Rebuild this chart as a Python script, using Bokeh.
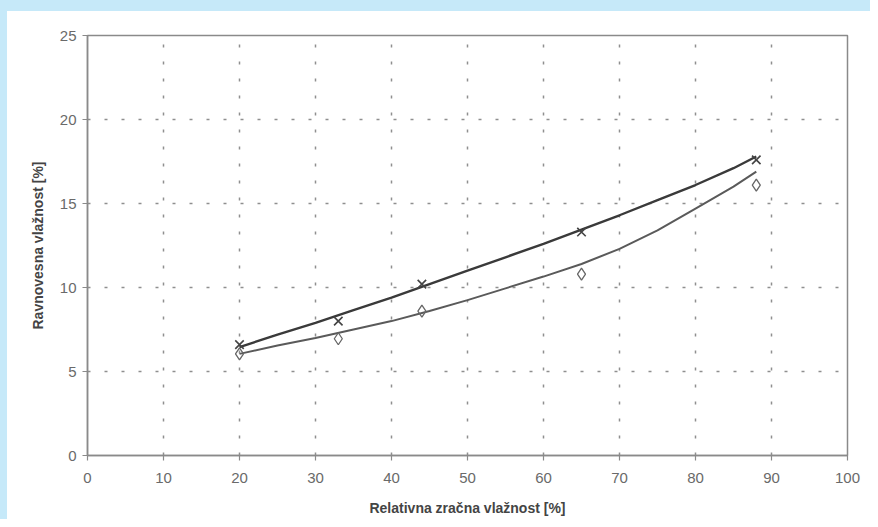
from bokeh.plotting import figure
from bokeh.embed import file_html
from bokeh.resources import INLINE
from bokeh.models import Range1d, FixedTicker

# Measured points
rh_points = [20, 33, 44, 65, 88]
moisture_x = [6.6, 8.0, 10.2, 13.3, 17.6]        # crosses
moisture_d = [6.05, 6.95, 8.6, 10.8, 16.1]        # diamonds

# Trend curves
curve_x = [20, 25, 30, 35, 40, 45, 50, 55, 60, 65, 70, 75, 80, 85, 88]
curve_upper = [6.45, 7.2, 7.9, 8.65, 9.4, 10.2, 11.0, 11.8, 12.6, 13.45, 14.3, 15.2, 16.1, 17.1, 17.8]
curve_lower = [6.05, 6.55, 7.0, 7.5, 8.0, 8.6, 9.25, 9.95, 10.65, 11.4, 12.3, 13.4, 14.7, 16.0, 16.9]

x_ticks = [0, 10, 20, 30, 40, 50, 60, 70, 80, 90, 100]
y_ticks = [0, 5, 10, 15, 20, 25]

FONT = "Liberation Sans"

p = figure(width=870, height=519, output_backend="svg", toolbar_location=None,
           x_range=Range1d(0, 100), y_range=Range1d(0, 25),
           frame_width=760, frame_height=420,
           min_border_left=87, min_border_top=35, min_border_right=23, min_border_bottom=64)

p.background_fill_color = "white"
p.border_fill_color = "white"
p.border_fill_alpha = 0.0
# blue scan border along the top and left edges
p.styles = {"background-color": "white",
            "box-shadow": "inset 7px 11px 0 0 #c6e9f9"}
p.outline_line_color = "#8a8a8a"
p.outline_line_width = 1.5

for ax in (p.xaxis[0], p.yaxis[0]):
    ax.axis_line_color = "#8a8a8a"
    ax.axis_line_width = 1.5
    ax.major_tick_line_color = "#8a8a8a"
    ax.major_tick_line_width = 1.2
    ax.major_tick_out = 5
    ax.major_tick_in = 0
    ax.minor_tick_line_color = None
    ax.major_label_text_font = FONT
    ax.major_label_text_font_size = "15px"
    ax.major_label_text_color = "#6a6a6a"
    ax.axis_label_text_font = FONT
    ax.axis_label_text_font_size = "14px"
    ax.axis_label_text_font_style = "bold"
    ax.axis_label_text_color = "#444444"

p.xaxis.ticker = FixedTicker(ticks=x_ticks)
p.yaxis.ticker = FixedTicker(ticks=y_ticks)
p.xaxis.major_label_standoff = 12
p.yaxis.major_label_standoff = 6
p.xaxis.axis_label = "Relativna zračna vlažnost [%]"
p.yaxis.axis_label = "Ravnovesna vlažnost [%]"
p.xaxis.axis_label_standoff = 14
p.yaxis.axis_label_standoff = 11

p.xgrid.ticker = FixedTicker(ticks=x_ticks[1:-1])
p.ygrid.ticker = FixedTicker(ticks=y_ticks[1:-1])
for g in (p.xgrid[0], p.ygrid[0]):
    g.grid_line_color = "#8f8f8f"
    g.grid_line_dash = "3 14"
    g.grid_line_width = 1.5

p.line(curve_x, curve_upper, line_color="#3a3a3a", line_width=2.4)
p.line(curve_x, curve_lower, line_color="#5a5a5a", line_width=2.0)

p.scatter(rh_points, moisture_x, marker="x", size=12, line_color="#444444", line_width=1.6)
p.scatter(rh_points, moisture_d, marker="diamond", size=12, fill_alpha=0,
          line_color="#666666", line_width=1.3)

open("out.html", "w").write(file_html(p, INLINE))
